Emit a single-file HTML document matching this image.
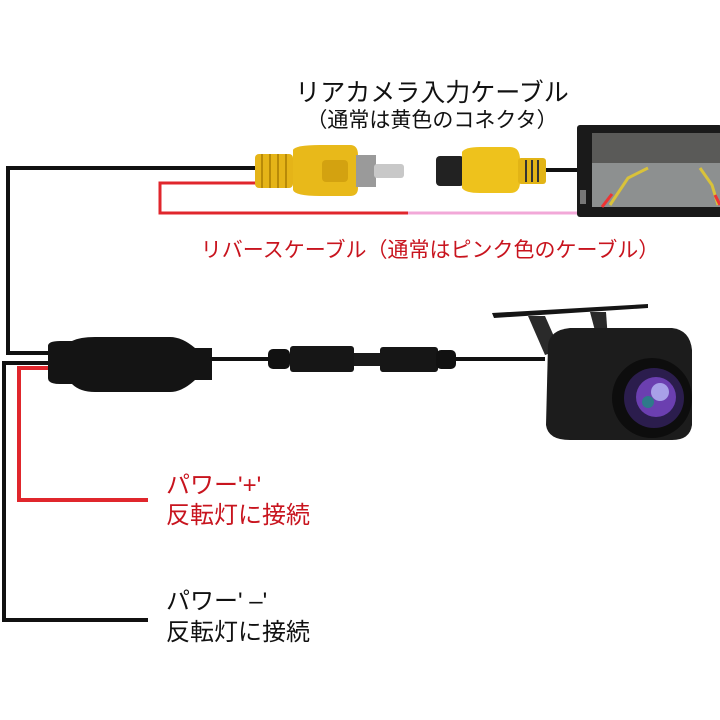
<!DOCTYPE html>
<html><head><meta charset="utf-8"><style>
html,body{margin:0;padding:0;background:#fff;}
svg{display:block;}
text{font-family:"Liberation Sans","Noto Sans CJK JP",sans-serif;}
</style></head><body>
<svg width="720" height="720" viewBox="0 0 720 720" xmlns="http://www.w3.org/2000/svg">
<rect width="720" height="720" fill="#fff"/>
<text x="432" y="101" font-size="25" text-anchor="middle" fill="#111">リアカメラ入力ケーブル</text>
<text x="432" y="127" font-size="21" text-anchor="middle" fill="#111">（通常は黄色のコネクタ）</text>
<text x="430" y="257" font-size="21" text-anchor="middle" fill="#c8141e">リバースケーブル（通常はピンク色のケーブル）</text>
<path d="M265 168 H8 V353 H55" fill="none" stroke="#111" stroke-width="4"/>
<path d="M262 183 H160 V213 H408" fill="none" stroke="#e0262c" stroke-width="3"/>
<line x1="408" y1="213" x2="578" y2="213" stroke="#f2a8d8" stroke-width="3"/>
<path d="M55 363 H4 V620 H148" fill="none" stroke="#111" stroke-width="4"/>
<path d="M55 368 H19 V500 H148" fill="none" stroke="#e0262c" stroke-width="4"/>
<rect x="255" y="154" width="38" height="34" rx="4" fill="#e5b418"/>
<g stroke="#b88a08" stroke-width="2">
<line x1="262" y1="154" x2="262" y2="188"/><line x1="270" y1="154" x2="270" y2="188"/><line x1="278" y1="154" x2="278" y2="188"/><line x1="286" y1="154" x2="286" y2="188"/></g>
<path d="M293 150 Q295 145 320 145 H350 Q358 145 358 155 V188 Q358 196 350 196 H320 Q295 196 293 190 Z" fill="#e8b91a"/>
<rect x="322" y="160" width="26" height="22" rx="4" fill="#d3a210"/>
<rect x="356" y="155" width="20" height="32" fill="#9a9a9a"/>
<rect x="374" y="164" width="30" height="14" rx="3" fill="#c8c8c8"/>
<rect x="436" y="156" width="28" height="30" rx="4" fill="#222"/>
<path d="M462 152 Q465 147 480 147 H510 Q520 147 520 160 V182 Q520 193 510 193 H480 Q465 193 462 188 Z" fill="#eec21c"/>
<rect x="518" y="158" width="28" height="26" rx="3" fill="#e2b416"/>
<g stroke="#333" stroke-width="2"><line x1="526" y1="160" x2="526" y2="182"/><line x1="532" y1="160" x2="532" y2="182"/><line x1="538" y1="160" x2="538" y2="182"/></g>
<line x1="546" y1="170" x2="580" y2="170" stroke="#111" stroke-width="4"/>
<rect x="577" y="125" width="145" height="92" rx="3" fill="#1a1a1a"/>
<rect x="592" y="133" width="128" height="74" fill="#8d9090"/>
<rect x="592" y="133" width="128" height="30" fill="#5a5a58"/>
<path d="M610 205 L628 178 L648 168 M700 168 L712 185 L718 205" stroke="#d9c23a" stroke-width="3" fill="none"/>
<path d="M602 207 L612 194 M715 195 L720 205" stroke="#e33" stroke-width="3" fill="none"/>
<rect x="580" y="190" width="6" height="14" fill="#777"/>
<path d="M48 346 Q48 341 60 341 H72 Q80 337 95 337 H170 Q182 337 195 348 H212 V380 H195 Q182 392 170 392 H95 Q80 392 72 384 H60 Q48 384 48 378 Z" fill="#141414"/>
<line x1="210" y1="359" x2="545" y2="359" stroke="#111" stroke-width="4"/>
<rect x="268" y="349" width="22" height="20" rx="5" fill="#111"/>
<rect x="290" y="346" width="64" height="26" rx="3" fill="#161616"/>
<rect x="354" y="353" width="26" height="13" fill="#1a1a1a"/>
<rect x="380" y="347" width="58" height="25" rx="3" fill="#161616"/>
<rect x="436" y="350" width="20" height="19" rx="5" fill="#111"/>
<polygon points="492,313 648,304 648,308 494,318" fill="#151515"/>
<path d="M528 316 L545 316 L560 350 L545 355 Z" fill="#2a2a2a"/>
<path d="M590 312 L606 312 L608 340 L598 342 Z" fill="#2a2a2a"/>
<path d="M548 345 Q550 330 570 328 H672 Q690 330 692 350 V425 Q690 440 672 440 H570 Q548 440 546 425 Z" fill="#1c1c1c"/>
<circle cx="652" cy="398" r="40" fill="#0d0d0d"/>
<circle cx="654" cy="398" r="30" fill="#2b1d4d"/>
<circle cx="656" cy="397" r="20" fill="#6b3fb0"/>
<circle cx="660" cy="392" r="9" fill="#a8a0e8"/>
<circle cx="648" cy="402" r="6" fill="#2e7a8a"/>
<text x="166" y="493" font-size="24" fill="#c8141e">パワー'+'</text>
<text x="166" y="523" font-size="24" fill="#c8141e">反転灯に接続</text>
<text x="166" y="609" font-size="24" fill="#111">パワー' –'</text>
<text x="166" y="640" font-size="24" fill="#111">反転灯に接続</text>
</svg>
</body></html>
